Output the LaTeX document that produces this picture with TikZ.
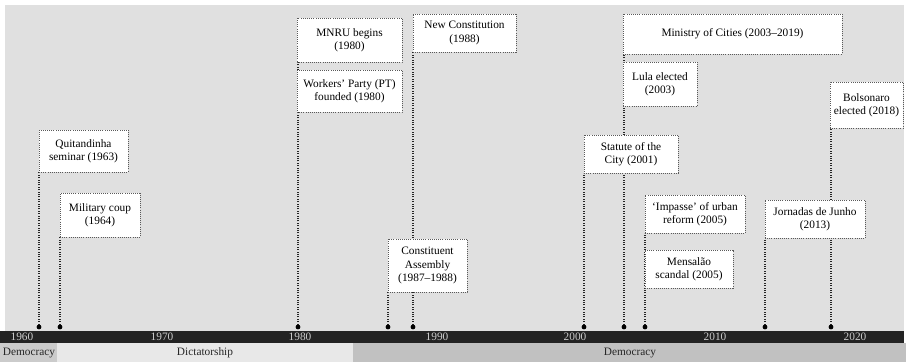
\documentclass[tikz,border=0pt]{standalone}
\usepackage{fontspec}
\setmainfont{Liberation Serif}
\usepackage{tikz}
\usetikzlibrary{backgrounds}

\definecolor{bggray}{HTML}{E0E0E0}
\definecolor{bargray}{HTML}{232323}
\definecolor{demgray}{HTML}{CBCBCB}
\definecolor{dicgray}{HTML}{E8E8E8}

\begin{document}
\begin{tikzpicture}[x=0.75pt,y=-0.75pt,
  event/.style={draw=black!65,densely dotted,line width=0.6pt,fill=white,align=center,inner sep=0pt,font=\fontsize{8.5}{10}\selectfont},
  link/.style={black!85,densely dotted,line width=0.8pt},
  year/.style={text=white!80!black,font=\fontsize{8.5}{10}\selectfont},
  regime/.style={text=black!85,font=\fontsize{8.5}{10}\selectfont}]
\useasboundingbox (0,0) rectangle (906,362);

% events on the line
\coordinate (d63) at (39,327);
\coordinate (d64) at (60,327);
\coordinate (d80) at (298,327);
\coordinate (d87) at (388,327);
\coordinate (d88) at (413,327);
\coordinate (d01) at (584,327);
\coordinate (d03) at (624,327);
\coordinate (d05) at (645,327);
\coordinate (d13) at (765,327);
\coordinate (d18) at (831,327);

\node[event,minimum width=66.75pt,minimum height=31.5pt] (quit) at (83.5,151) {Quitandinha\\seminar (1963)};
\node[event,minimum width=60pt,minimum height=33pt] (coup) at (100,215) {Military coup\\(1964)};
\node[event,minimum width=78.75pt,minimum height=33pt] (mnru) at (349.5,40) {MNRU begins\\(1980)};
\node[event,minimum width=78.75pt,minimum height=31.5pt] (pt) at (349.5,91) {Workers’ Party (PT)\\founded (1980)};
\node[event,minimum width=77.25pt,minimum height=28.5pt] (newc) at (464.5,33) {New Constitution\\(1988)};
\node[event,minimum width=59.25pt,minimum height=39.75pt] (assembly) at (427.5,265.5) {Constituent\\Assembly\\(1987–1988)};
\node[event,minimum width=164.25pt,minimum height=30pt] (cities) at (732.5,34) {Ministry of Cities (2003–2019)};
\node[event,minimum width=55.5pt,minimum height=33pt] (lula) at (660,84) {Lula elected\\(2003)};
\node[event,minimum width=54.75pt,minimum height=34.5pt] (bolso) at (866.5,105) {Bolsonaro\\elected (2018)};
\node[event,minimum width=70.5pt,minimum height=28.5pt] (statute) at (631,154) {Statute of the\\City (2001)};
\node[event,minimum width=75pt,minimum height=28.5pt] (impasse) at (695,214) {‘Impasse’ of urban\\reform (2005)};
\node[event,minimum width=75pt,minimum height=28.5pt] (jornadas) at (815,219) {Jornadas de Junho\\(2013)};
\node[event,minimum width=66pt,minimum height=28.5pt] (mensalao) at (689,269) {Mensalão\\scandal (2005)};

\begin{scope}[on background layer]
\fill[white] (0,0) rectangle (906,362);
\fill[bggray] (5,5) rectangle (904,331);
\draw[link] (d63) -- (d63 |- quit.south);
\draw[link] (d64) -- (d64 |- coup.south);
\draw[link] (d80) -- (d80 |- mnru.south);
\draw[link] (d87) -- (d87 |- assembly.south);
\draw[link] (d88) -- (d88 |- newc.south);
\draw[link] (d01) -- (d01 |- statute.south);
\draw[link] (d03) -- (d03 |- cities.south);
\draw[link] (d05) -- (d05 |- impasse.south);
\draw[link] (d13) -- (d13 |- jornadas.south);
\draw[link] (d18) -- (d18 |- bolso.south);
\end{scope}

% regimes
\fill[demgray] (0,343) rectangle (57,362);
\fill[dicgray] (57,343) rectangle (353,362);
\fill[demgray!95!black] (353,343) rectangle (906,362);
\node[regime] (dem1) at (29,353) {Democracy};
\node[regime] (dic) at (205,353) {Dictatorship};
\node[regime] (dem2) at (630,353) {Democracy};

% time bar
\fill[bargray] (0,331) rectangle (904,343);
\foreach \d in {d63,d64,d80,d87,d88,d01,d03,d05,d13,d18}
  \fill[black] (\d) circle[radius=1.8pt];
\node[year] (y1960) at (22,337) {1960};
\node[year] (y1970) at (162,337) {1970};
\node[year] (y1980) at (300,337) {1980};
\node[year] (y1990) at (437,337) {1990};
\node[year] (y2000) at (575,337) {2000};
\node[year] (y2010) at (715,337) {2010};
\node[year] (y2020) at (855,337) {2020};
\end{tikzpicture}
\end{document}
